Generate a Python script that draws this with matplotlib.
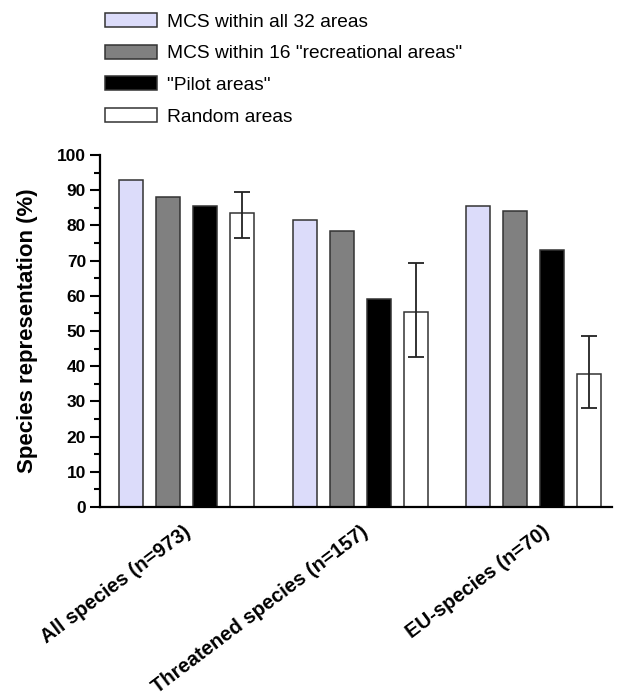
import numpy as np
import matplotlib
matplotlib.use("Agg")
import matplotlib.pyplot as plt
from matplotlib.transforms import ScaledTranslation

plt.rcParams['font.family'] = ['Liberation Sans', 'DejaVu Sans']

categories = ['All species (n=973)', 'Threatened species (n=157)', 'EU-species (n=70)']
series = ['MCS within all 32 areas', 'MCS within 16 "recreational areas"',
          '"Pilot areas"', 'Random areas']
values = [
    [92.9, 81.5, 85.6],   # all 32 areas
    [88.2, 78.3, 84.1],   # 16 recreational areas
    [85.6, 59.2, 72.9],   # pilot areas
    [83.6, 55.4, 37.7],   # random areas
]
random_low = [76.4, 42.7, 28.0]
random_high = [89.4, 69.3, 48.6]

colors = ['#dcdcfa', '#808080', '#000000', '#ffffff']
group_step = 4.69
bar_w = 0.65

fig = plt.figure(figsize=(6.25, 7), dpi=100)
ax = fig.add_axes([100/625, 1 - 507/700, 512/625, 352/700])

groups = np.arange(len(categories)) * group_step
handles = []
for i, (name, vals) in enumerate(zip(series, values)):
    x = groups + i
    b = ax.bar(x, vals, width=bar_w, color=colors[i], edgecolor='#333333',
               linewidth=1.1, label=name)
    handles.append(b)
    if i == 3:
        v = np.array(vals)
        yerr = [v - np.array(random_low), np.array(random_high) - v]
        ax.errorbar(x, v, yerr=yerr, fmt='none', ecolor='#222222',
                    elinewidth=1.3, capsize=5.5, capthick=1.3)

ax.set_xlim(-0.84, 13.0)
ax.set_ylim(0, 100)
ax.set_yticks(np.arange(0, 101, 10))
ax.set_yticks(np.arange(0, 101, 5), minor=True)
ax.spines['top'].set_visible(False)
ax.spines['right'].set_visible(False)
ax.spines['left'].set_linewidth(1.6)
ax.spines['bottom'].set_linewidth(1.6)
ax.tick_params(axis='y', which='major', length=7, width=1.5, labelsize=12.5, pad=3)
ax.tick_params(axis='y', which='minor', length=4, width=1.5)
for lab in ax.get_yticklabels():
    lab.set_fontweight('bold')

ax.set_xticks(groups + 1.5)
ax.set_xticklabels(categories, rotation=37, ha='right', fontsize=14.5, fontweight='bold')
ax.tick_params(axis='x', length=0, pad=11)
shifts = [0.08, 0.12, 0.2]
for lab, s in zip(ax.get_xticklabels(), shifts):
    lab.set_transform(lab.get_transform() + ScaledTranslation(s, 0, fig.dpi_scale_trans))

ax.set_ylabel('Species representation (%)', fontsize=16, fontweight='bold', labelpad=14)

fig.legend(handles=handles, labels=series, loc='upper left',
           bbox_to_anchor=(105/625, 1 - 13/700), frameon=False, fontsize=13.8,
           handlelength=2.73, handleheight=0.75, handletextpad=0.52,
           labelspacing=0.73, borderpad=0, borderaxespad=0)

fig.savefig('out.png', dpi=100)
